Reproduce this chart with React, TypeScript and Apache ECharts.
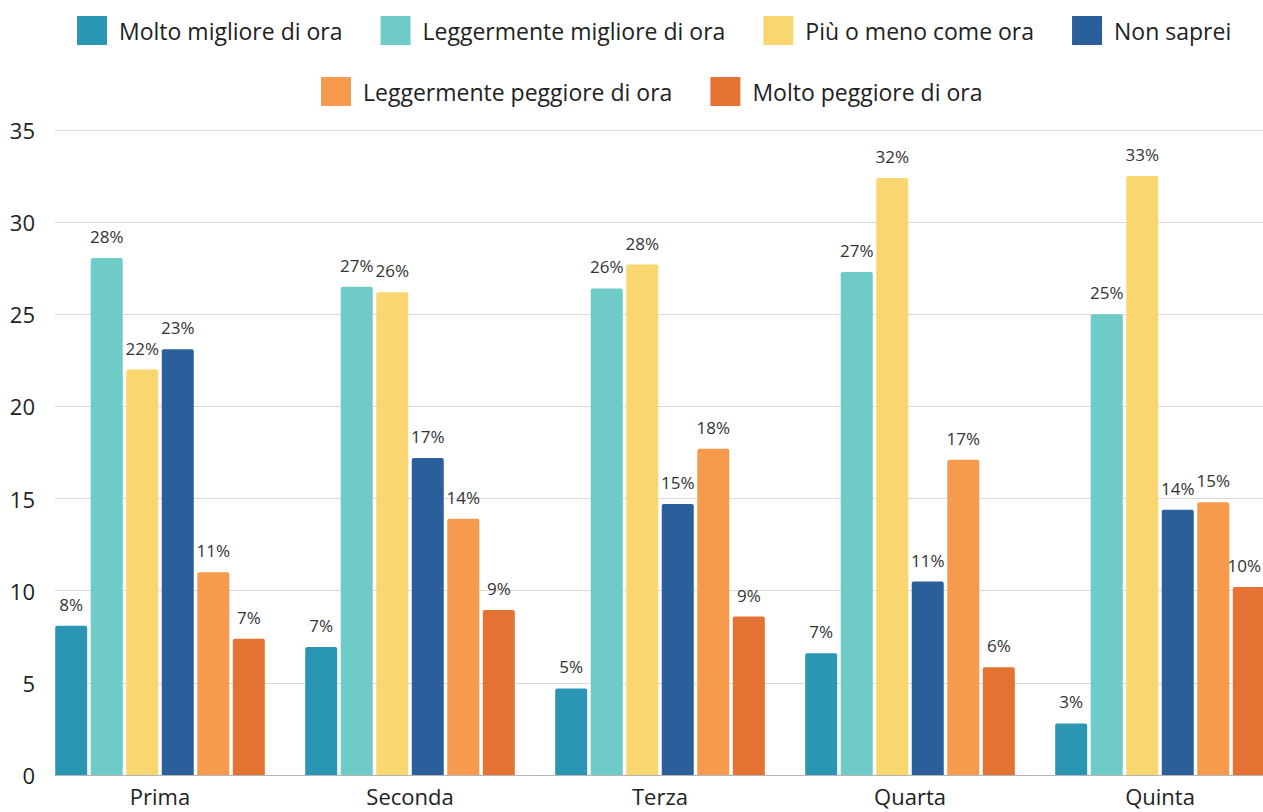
import React, { useEffect, useRef } from "react";
import * as echarts from "echarts";

const categories = ["Prima", "Seconda", "Terza", "Quarta", "Quinta"];
const seriesNames = [
  "Molto migliore di ora",
  "Leggermente migliore di ora",
  "Più o meno come ora",
  "Non saprei",
  "Leggermente peggiore di ora",
  "Molto peggiore di ora",
];
const moltoMigliore = [8.1, 6.95, 4.7, 6.6, 2.8];
const leggMigliore = [28.05, 26.5, 26.4, 27.3, 25.0];
const piuOMeno = [22.0, 26.2, 27.7, 32.4, 32.5];
const nonSaprei = [23.1, 17.2, 14.7, 10.5, 14.4];
const leggPeggiore = [11.0, 13.9, 17.7, 17.1, 14.8];
const moltoPeggiore = [7.4, 8.95, 8.6, 5.85, 10.2];
const seriesValues = [moltoMigliore, leggMigliore, piuOMeno, nonSaprei, leggPeggiore, moltoPeggiore];
const colors = ["#2b96b3", "#6fcbc8", "#f9d66f", "#2b5f9b", "#f69b4d", "#e47232"];
const yTicks = { min: 0, max: 35, interval: 5 };

const FONT = "'Open Sans', Roboto, sans-serif";

export default function App() {
  const ref = useRef<HTMLDivElement>(null);
  useEffect(() => {
    if (!ref.current) return;
    const chart = echarts.init(ref.current, undefined, { renderer: "svg" });
    const legendBase = {
      padding: 0,
      itemWidth: 30,
      itemHeight: 29,
      itemGap: 38,
      icon: "rect",
      textStyle: { fontSize: 23, color: "#222", fontFamily: FONT, padding: [0, 0, 0, 7] },
    };
    const option = {
      animation: false,
      backgroundColor: "#ffffff",
      textStyle: { fontFamily: FONT },
      legend: [
        { ...legendBase, data: seriesNames.slice(0, 4), top: 16, left: 77 },
        { ...legendBase, data: seriesNames.slice(4), top: 77, left: 321 },
      ],
      grid: { left: 55, right: 0, top: 130, bottom: 37, containLabel: false },
      xAxis: {
        type: "value",
        min: -0.42,
        max: 4.412,
        splitLine: { show: false },
        axisTick: { show: false },
        axisLine: { show: true, lineStyle: { color: "#b5b5b5", width: 1 } },
        axisLabel: {
          customValues: [0, 1, 2, 3, 4],
          formatter: (v: number) => categories[Math.round(v)] ?? "",
          fontSize: 22,
          color: "#222",
          margin: 10,
          fontFamily: FONT,
        },
      },
      yAxis: {
        type: "value",
        min: yTicks.min,
        max: yTicks.max,
        interval: yTicks.interval,
        axisLine: { show: false },
        axisTick: { show: false },
        splitLine: { lineStyle: { color: "#d9d9d9", width: 1 } },
        axisLabel: { fontSize: 22, color: "#222", margin: 20, fontFamily: FONT },
      },
      series: seriesNames.map((name, si) => ({
        name,
        type: "bar",
        barWidth: 32,
        barGap: "11%",
        itemStyle: { color: colors[si], borderRadius: [2, 2, 0, 0] },
        label: {
          show: true,
          position: "top",
          distance: 13,
          fontSize: 17,
          color: "#333",
          fontFamily: FONT,
          formatter: (p: any) => Math.round(p.value[1]) + "%",
        },
        labelLayout: (params: any) => {
          const r = params.labelRect;
          if (r && r.x + r.width > 1261) return { dx: 1261 - (r.x + r.width) };
          return {};
        },
        data: seriesValues[si].map((v, i) => [i, v]),
      })),
    };
    chart.setOption(option);
    return () => chart.dispose();
  }, []);
  return (
    <div
      ref={ref}
      style={{ position: "absolute", left: 0, top: 0, width: 1263, height: 812, background: "#fff" }}
    />
  );
}
